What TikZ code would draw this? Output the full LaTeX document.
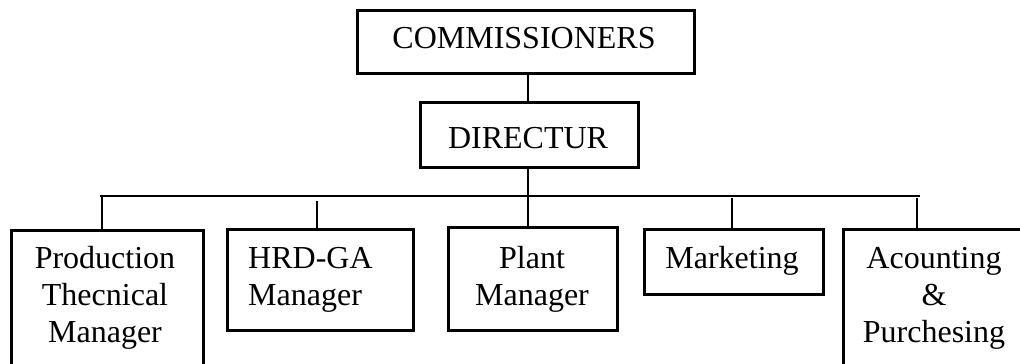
\documentclass[tikz,border=0pt]{standalone}
\usepackage{fontspec}
\setmainfont{Liberation Serif}
\begin{document}
\begin{tikzpicture}[x=1pt,y=-1pt,
  box/.style={draw=black,line width=2.6pt,inner sep=0pt,anchor=north west},
  txt/.style={inner sep=0pt,font=\fontsize{32}{37}\selectfont},
  conn/.style={draw=black,line width=2.4pt}]
\useasboundingbox (0,0) rectangle (1020,364);
\clip (0,0) rectangle (1020,364);
% boxes
\node[box,minimum width=337,minimum height=63] (com) at (356,9) {};
\node[box,minimum width=218,minimum height=65] (dir) at (419,101) {};
\node[box,minimum width=192,minimum height=151] (b1) at (10,229) {};
\node[box,minimum width=186,minimum height=101] (b2) at (226,228) {};
\node[box,minimum width=169,minimum height=103] (b3) at (447,226) {};
\node[box,minimum width=179,minimum height=65] (b4) at (643,228) {};
\node[box,minimum width=188,minimum height=152] (b5) at (842,228) {};
% texts
\node[txt,anchor=base] (tcom) at (524,48) {COMMISSIONERS};
\node[txt,anchor=base] (tdir) at (528,148) {DIRECTUR};
\node[txt,anchor=base,align=center] (t1) at (105,342) {Production\\Thecnical\\Manager};
\node[txt,anchor=base west,align=left] (t2) at (248,305) {HRD-GA\\Manager};
\node[txt,anchor=base,align=center] (t3) at (532,305) {Plant\\Manager};
\node[txt,anchor=base] (t4) at (732,268) {Marketing};
\node[txt,anchor=base,align=center] (t5) at (934,342) {Acounting\\\&\\Purchesing};
% bus coordinates
\coordinate (busL) at (100,196);
\coordinate (busR) at (920,196);
\coordinate (c1) at (102,196);
\coordinate (c2) at (317,201);
\coordinate (c3) at (528,196);
\coordinate (c4) at (732,198);
\coordinate (c5) at (917,198);
% connectors
\draw[conn] (com.south -| c3) -- (dir.north -| c3);
\draw[conn] (dir.south -| c3) -- (c3);
\draw[conn] (busL) -- (busR);
\draw[conn] (c1) -- (c1 |- b1.north);
\draw[conn] (c2) -- (c2 |- b2.north);
\draw[conn] (c3) -- (c3 |- b3.north);
\draw[conn] (c4) -- (c4 |- b4.north);
\draw[conn] (c5) -- (c5 |- b5.north);
\end{tikzpicture}
\end{document}
